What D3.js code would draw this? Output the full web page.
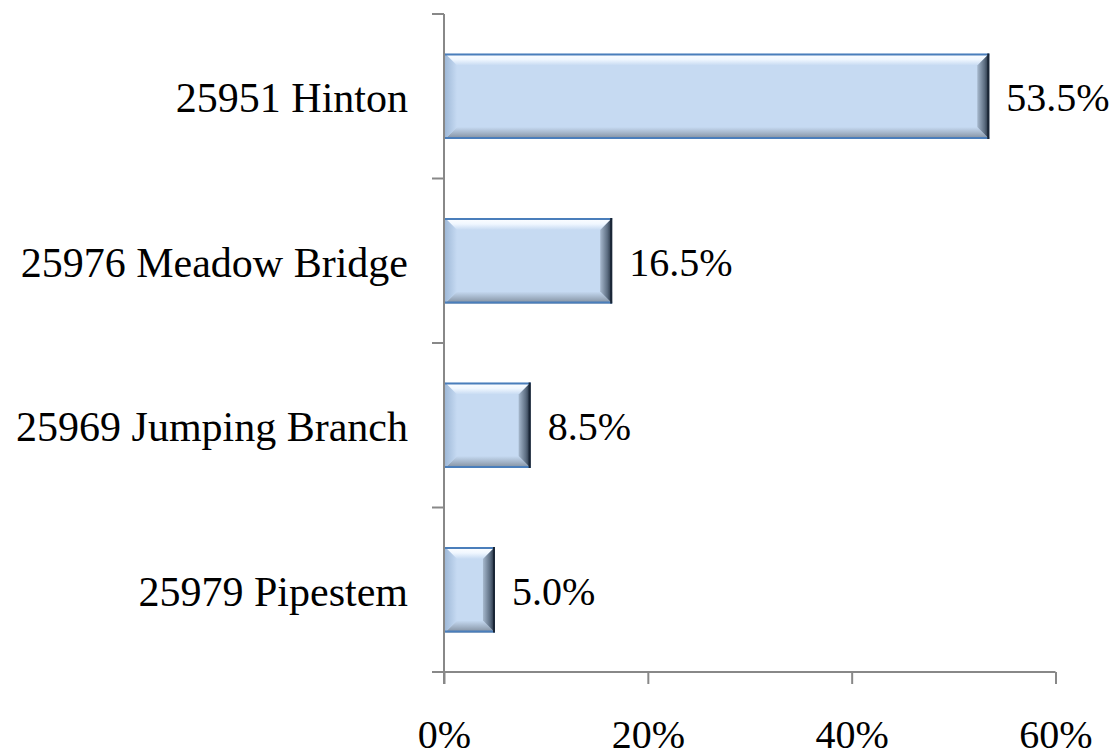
<!DOCTYPE html>
<html>
<head>
<meta charset="utf-8">
<script src="https://cdn.jsdelivr.net/npm/d3@7"></script>
<style>
  html, body { margin: 0; padding: 0; background: #fff; }
  svg { display: block; }
  svg text { font-family: "Liberation Serif", "Times New Roman", serif; fill: #000; }
</style>
</head>
<body>
<script>
// data, top bar first
var categories = ["25951 Hinton", "25976 Meadow Bridge", "25969 Jumping Branch", "25979 Pipestem"];
var shares = [0.535, 0.165, 0.085, 0.05];
var xTicks = [0, 0.2, 0.4, 0.6];

var width = 1120, height = 754;
var plotLeft = 444, plotRight = 1055.5, plotTop = 14, plotBottom = 672;
var bevel = 12;
var axisColor = "#888888";

var svg = d3.select("body").append("svg")
    .attr("width", width)
    .attr("height", height);

var x = d3.scaleLinear().domain([0, 0.6]).range([plotLeft, plotRight]);
var y = d3.scaleBand().domain(categories).range([plotTop, plotBottom]).paddingInner(0.48).paddingOuter(0.24);

var defs = svg.append("defs");
function grad(id, x1, y1, x2, y2, stops) {
    var g = defs.append("linearGradient").attr("id", id)
        .attr("x1", x1).attr("y1", y1).attr("x2", x2).attr("y2", y2);
    stops.forEach(function (s) {
        g.append("stop").attr("offset", s[0]).attr("stop-color", s[1]);
    });
}
grad("gTop", 0, 0, 0, 1, [[0, "#ffffff"], [0.5, "#f0f7ff"], [1, "#c6daf2"]]);
grad("gBottom", 0, 1, 0, 0, [[0, "#7f8c9c"], [0.5, "#a3b4c8"], [1, "#c6daf2"]]);
grad("gLeft", 0, 0, 1, 0, [[0, "#9fb9d8"], [1, "#c6daf2"]]);
grad("gRight", 1, 0, 0, 0, [[0, "#1c2838"], [0.4, "#5d6e82"], [1, "#a7b9ce"]]);

// x axis
var xAxis = svg.append("g")
    .attr("transform", "translate(0," + plotBottom + ")")
    .call(d3.axisBottom(x).tickValues(xTicks).tickSize(12).tickPadding(36)
        .tickFormat(d3.format(".0%")).tickSizeOuter(0));
xAxis.attr("font-family", null).attr("font-size", null);
xAxis.select(".domain").attr("stroke", axisColor).attr("stroke-width", 2)
    .attr("d", "M" + (plotLeft - 12) + ",0H" + plotRight);
xAxis.selectAll(".tick line").attr("stroke", axisColor).attr("stroke-width", 2);
xAxis.selectAll(".tick text").attr("fill", "#000").style("font-size", "40px");

// y axis with ticks at the band boundaries
var yAxis = svg.append("g");
yAxis.append("line")
    .attr("x1", plotLeft).attr("x2", plotLeft).attr("y1", plotTop).attr("y2", plotBottom + 12)
    .attr("stroke", axisColor).attr("stroke-width", 2);
var step = y.step();
var bounds = d3.range(categories.length).map(function (i) { return plotTop + i * step; });
yAxis.selectAll(".btick").data(bounds).enter().append("line")
    .attr("x1", plotLeft - 12).attr("x2", plotLeft)
    .attr("y1", function (d) { return d; }).attr("y2", function (d) { return d; })
    .attr("stroke", axisColor).attr("stroke-width", 2);

yAxis.selectAll(".cat").data(categories).enter().append("text")
    .attr("x", plotLeft - 36)
    .attr("y", function (d) { return y(d) + y.bandwidth() / 2; })
    .attr("dy", "0.38em")
    .attr("text-anchor", "end")
    .style("font-size", "42px")
    .text(function (d) { return d; });

// bars with bevel
var bars = svg.selectAll(".bar").data(categories).enter().append("g").attr("class", "bar");
bars.each(function (c, i) {
    var g = d3.select(this);
    var x0 = x(0) + 1, x1 = x(shares[i]);
    var y0 = y(c), y1 = y(c) + y.bandwidth();
    var b = Math.min(bevel, (x1 - x0) / 3);
    function poly(pts, fill) {
        g.append("polygon").attr("points", pts.map(function (p) { return p.join(","); }).join(" "))
            .attr("fill", fill);
    }
    g.append("rect").attr("x", x0).attr("y", y0).attr("width", x1 - x0).attr("height", y1 - y0)
        .attr("fill", "#c6daf2");
    poly([[x0, y0], [x1, y0], [x1 - b, y0 + b], [x0 + b, y0 + b]], "url(#gTop)");
    poly([[x0, y1], [x1, y1], [x1 - b, y1 - b], [x0 + b, y1 - b]], "url(#gBottom)");
    poly([[x0, y0], [x0 + b, y0 + b], [x0 + b, y1 - b], [x0, y1]], "url(#gLeft)");
    poly([[x1, y0], [x1 - b, y0 + b], [x1 - b, y1 - b], [x1, y1]], "url(#gRight)");
    g.append("line").attr("x1", x0).attr("x2", x1).attr("y1", y0 + 1).attr("y2", y0 + 1)
        .attr("stroke", "#4a7ebb").attr("stroke-width", 2);
    g.append("line").attr("x1", x0).attr("x2", x1).attr("y1", y1 - 1).attr("y2", y1 - 1)
        .attr("stroke", "#4a7ebb").attr("stroke-width", 2);
    g.append("line").attr("x1", x1 - 1).attr("x2", x1 - 1).attr("y1", y0).attr("y2", y1)
        .attr("stroke", "#1a2636").attr("stroke-width", 2);

    g.append("text")
        .attr("x", x1 + 17)
        .attr("y", (y0 + y1) / 2)
        .attr("dy", "0.37em")
        .style("font-size", "40px")
        .text(d3.format(".1%")(shares[i]));
});
</script>
</body>
</html>
